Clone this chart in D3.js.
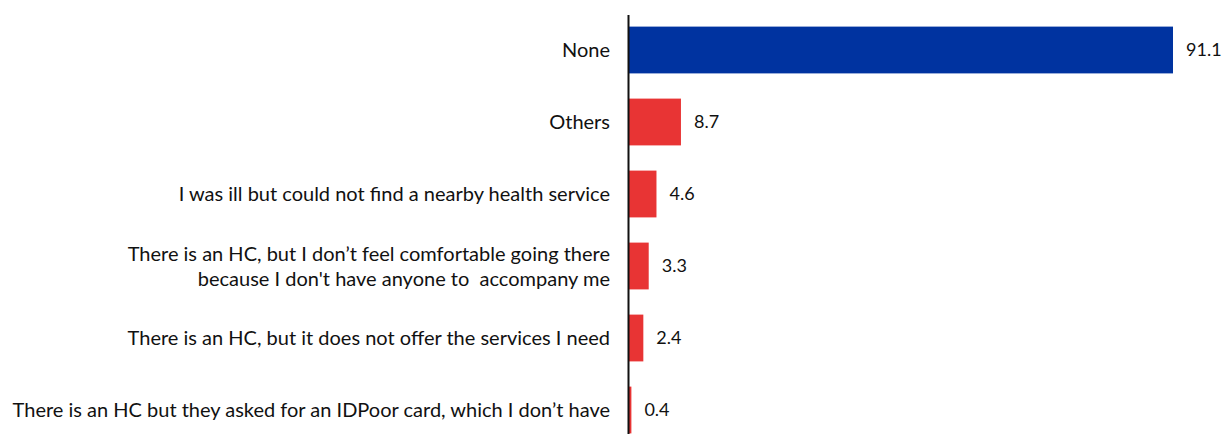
<!DOCTYPE html>
<html>
<head>
<meta charset="utf-8">
<script src="https://cdn.jsdelivr.net/npm/d3@7"></script>
<style>
  html, body { margin: 0; padding: 0; background: #fff; }
  svg { display: block; font-family: Lato, "Open Sans", sans-serif; }
</style>
</head>
<body>
<svg id="chart" width="1223" height="434"></svg>
<script>
// Reasons for not visiting a health centre (%)
const categories = [
  ["None"],
  ["Others"],
  ["I was ill but could not find a nearby health service"],
  ["There is an HC, but I don\u2019t feel comfortable going there", "because I don't have anyone to  accompany me"],
  ["There is an HC, but it does not offer the services I need"],
  ["There is an HC but they asked for an IDPoor card, which I don\u2019t have"]
];
const values = [91.1, 8.7, 4.6, 3.3, 2.4, 0.4];
const highlight = [true, false, false, false, false, false];

const svg = d3.select("#chart");
const x0 = 629;

const x = d3.scaleLinear().domain([0, 91.1]).range([x0, 1173]);
const y = d3.scaleBand()
  .domain(d3.range(values.length))
  .range([14, 446])
  .paddingInner(0.35)
  .paddingOuter(0.175);

// bars
svg.selectAll("rect.bar")
  .data(values)
  .join("rect")
  .attr("class", "bar")
  .attr("x", x(0))
  .attr("y", (d, i) => y(i))
  .attr("width", d => x(d) - x(0))
  .attr("height", y.bandwidth())
  .attr("fill", (d, i) => highlight[i] ? "#0033A0" : "#E83434");

// value labels
svg.selectAll("text.val")
  .data(values)
  .join("text")
  .attr("class", "val")
  .attr("x", d => x(d) + 13)
  .attr("y", (d, i) => y(i) + y.bandwidth() / 2)
  .attr("dy", "0.35em")
  .attr("font-size", 18)
  .attr("fill", "#111")
  .text(d => d.toFixed(1));

// category labels
const lab = svg.selectAll("text.cat")
  .data(categories)
  .join("text")
  .attr("class", "cat")
  .attr("text-anchor", "end")
  .attr("font-size", 20)
  .attr("fill", "#111")
  .style("white-space", "pre")
  .attr("y", (d, i) => y(i) + y.bandwidth() / 2);

lab.selectAll("tspan")
  .data(d => d.map((t, k) => ({t, k, n: d.length})))
  .join("tspan")
  .attr("x", x0 - 19)
  .attr("dy", (d) => d.k === 0 ? `${0.35 - (d.n - 1) * 0.625}em` : "1.25em")
  .text(d => d.t);

// vertical axis line
svg.append("line")
  .attr("x1", x0 - 0.5).attr("x2", x0 - 0.5)
  .attr("y1", 15).attr("y2", 434)
  .attr("stroke", "#111")
  .attr("stroke-width", 2);
</script>
</body>
</html>
